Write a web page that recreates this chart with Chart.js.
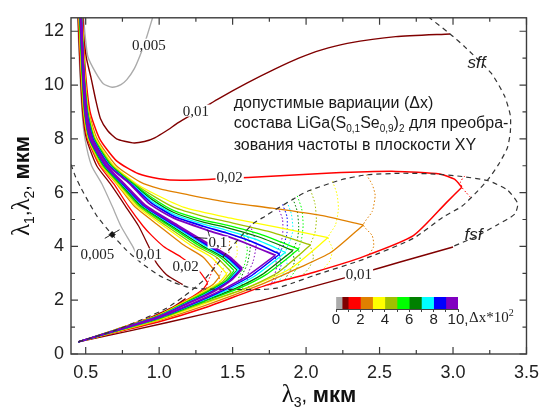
<!DOCTYPE html>
<html lang="ru">
<head>
<meta charset="UTF-8">
<title>Допустимые вариации состава LiGa(S,Se)2</title>
<script src="https://cdn.jsdelivr.net/npm/chart.js"></script>
<style>
  body { margin: 0; background: #fff; }
  #wrap { position: relative; width: 547px; height: 414px; }
  #main { position: absolute; left: 0; top: 0; }
  #bar { position: absolute; left: 326px; top: 290px; }
</style>
</head>
<body>
<div id="wrap">
  <canvas id="main" width="547" height="414"></canvas>
  <canvas id="bar" width="240" height="43"></canvas>
</div>
<script>
// axes
const xTicks = [0.5, 1.0, 1.5, 2.0, 2.5, 3.0, 3.5];
const xMinor = [0.75, 1.25, 1.75, 2.25, 2.75, 3.25];
const yTicks = [0, 2, 4, 6, 8, 10, 12];
const yMinor = [1, 3, 5, 7, 9, 11];

// phase-matching region borders (lambda3, lambda1/2)
const sffBorder = [[0.4,7.05],[0.43,6.6],[0.47,6.15],[0.52,5.65],[0.58,5.1],[0.68,4.44],[0.77,3.9],[0.87,3.42],[1.0,2.92],[1.1,2.66],[1.2,2.48],[1.3,2.42],[1.5,2.4],[1.7,2.4],[1.8,2.45],[1.9,2.62],[2.06,2.93],[2.39,3.52],[2.73,4.3],[2.93,5.08],[3.06,5.49],[3.15,5.96],[3.24,6.5],[3.31,7.05],[3.37,7.67],[3.39,8.25],[3.39,8.87],[3.35,9.6],[3.26,10.44],[3.08,11.42],[2.98,11.9],[2.84,12.5]];
const fsfBorder = [[0.45,0.45],[0.7,0.88],[0.9,1.32],[1.05,1.7],[1.17,2.15],[1.24,2.45],[1.31,2.78],[1.39,3.3],[1.46,3.78],[1.57,4.45],[1.64,4.85],[1.72,5.12],[1.79,5.36],[1.9,5.72],[2.01,6.05],[2.24,6.48],[2.41,6.66],[2.66,6.72],[2.88,6.69],[3.06,6.6],[3.24,6.44],[3.37,6.1],[3.44,5.6],[3.42,5.2],[3.3,4.8],[3.15,4.35],[3.0,4.0]];

// dx = 0.005
const leftGray = [[0.445,12.5],[0.46,10.5],[0.475,9],[0.495,8],[0.54,7],[0.61,6.33],[0.68,5.5],[0.74,4.75],[0.82,4.0],[0.87,3.42]];
const rightGray = [[0.486,12.5],[0.495,11.9],[0.515,11.05],[0.57,10.44],[0.62,10.05],[0.68,9.92],[0.74,10.02],[0.78,10.2],[0.83,10.6],[0.87,11.1],[0.91,11.7],[0.955,12.5]];

// dx = 0.01
const leftBrown = [[0.448,12.5],[0.463,10.5],[0.479,9],[0.505,8],[0.575,7],[0.667,6.33],[0.77,5.5],[0.86,4.76],[0.925,4.04],[0.98,3.4],[1.05,2.95],[1.16,2.58]];
const leftBrownLow = [[0.45,0.45],[0.7,0.86],[0.9,1.26],[1.0,1.5],[1.1,1.76],[1.18,2.06]];
const rightBrown = [[0.481,12.5],[0.485,11.9],[0.505,11.0],[0.535,10.3],[0.57,9.4],[0.6,8.76],[0.65,8.3],[0.71,8.0],[0.82,7.85],[0.9,7.9],[0.97,8.04],[1.05,8.3],[1.13,8.6],[1.26,9.02],[1.4,9.48],[1.6,10.08],[1.79,10.6],[1.95,11.0],[2.1,11.3],[2.28,11.55],[2.61,11.8],[2.98,11.9]];
const rightBrownLow = [[0.45,0.45],[0.8,0.86],[1.31,1.49],[1.73,2.04],[2.36,2.98],[2.64,3.42],[3.0,3.98]];

// dx = 0.02
const leftRed = [[0.451,12.5],[0.467,10.5],[0.483,9],[0.512,8],[0.595,7],[0.69,6.33],[0.79,5.5],[0.89,4.76],[0.95,4.4],[1.03,4.0],[1.15,3.6],[1.27,3.1],[1.33,2.65]];
const leftRedLow = [[1.33,2.65],[1.3,2.42],[1.2,2.05],[1.0,1.47],[0.7,0.9],[0.45,0.45]];
const rightRed = [[0.478,12.5],[0.498,10.5],[0.53,9],[0.595,8],[0.71,7.18],[0.86,6.7],[1.0,6.52],[1.15,6.46],[1.48,6.53],[1.73,6.6],[2.17,6.73],[2.61,6.79],[2.91,6.69],[3.01,6.5],[3.06,6.2]];
const rightRedLow = [[3.06,6.2],[2.95,5.6],[2.73,4.4],[2.39,3.62],[2.06,3.05],[1.73,2.56],[1.31,1.72],[1.0,1.2],[0.7,0.8],[0.45,0.45]];

// dx = 0.03
const leftOrange = [[0.453,12.5],[0.469,10.5],[0.486,9],[0.516,8],[0.603,7],[0.71,6.33],[0.83,5.5],[1.0,4.76],[1.17,4.04],[1.3,3.6],[1.41,2.87]];
const leftOrangeLow = [[1.41,2.87],[1.37,2.6],[1.31,2.38],[1.2,2.03],[1.0,1.46],[0.7,0.9],[0.45,0.45]];
const rightOrange = [[0.476,12.5],[0.494,10.5],[0.522,9],[0.578,8],[0.708,7],[0.87,6.4],[1.0,6.15],[1.2,5.92],[1.46,5.65],[1.77,5.42],[2.1,5.15],[2.39,4.8]];
const rightOrangeLow = [[2.39,4.8],[2.17,3.78],[1.95,3.2],[1.7,2.6],[1.31,1.8],[1.0,1.25],[0.7,0.81],[0.45,0.45]];

// dx = 0.04
const leftYellow = [[0.455,12.5],[0.471,10.5],[0.488,9],[0.519,8],[0.61,7],[0.715,6.33],[0.845,5.5],[1.03,4.76],[1.215,4.04],[1.355,3.6],[1.46,2.98]];
const leftYellowLow = [[1.46,2.98],[1.41,2.66],[1.31,2.34],[1.2,2.01],[1.0,1.45],[0.7,0.89],[0.45,0.45]];
const rightYellow = [[0.475,12.5],[0.492,10.5],[0.518,9],[0.568,8],[0.692,7],[0.845,6.33],[0.98,5.92],[1.17,5.45],[1.46,5.08],[1.8,4.72],[2.15,4.33]];
const rightYellowLow = [[2.15,4.33],[1.9,3.2],[1.64,2.55],[1.31,1.87],[1.0,1.28],[0.7,0.82],[0.45,0.45]];

// dx = 0.05
const leftOlive = [[0.457,12.5],[0.473,10.5],[0.49,9],[0.522,8],[0.615,7],[0.725,6.33],[0.86,5.5],[1.05,4.76],[1.245,4.04],[1.39,3.6],[1.49,3.05]];
const leftOliveLow = [[1.49,3.05],[1.43,2.68],[1.31,2.3],[1.2,1.99],[1.0,1.44],[0.7,0.89],[0.45,0.45]];
const rightOlive = [[0.474,12.5],[0.49,10.5],[0.515,9],[0.562,8],[0.682,7],[0.832,6.33],[0.965,5.86],[1.1,5.45],[1.3,5.12],[1.46,4.92],[1.75,4.55],[2.03,4.05]];
const rightOliveLow = [[2.03,4.05],[1.8,3.0],[1.58,2.42],[1.31,1.92],[1.0,1.3],[0.7,0.83],[0.45,0.45]];

// dx = 0.06
const leftGreen = [[0.459,12.5],[0.475,10.5],[0.492,9],[0.525,8],[0.62,7],[0.732,6.33],[0.87,5.5],[1.07,4.76],[1.27,4.04],[1.415,3.6],[1.51,3.1]];
const leftGreenLow = [[1.51,3.1],[1.45,2.7],[1.31,2.27],[1.2,1.97],[1.0,1.43],[0.7,0.88],[0.45,0.45]];
const rightGreen = [[0.473,12.5],[0.489,10.5],[0.513,9],[0.558,8],[0.675,7],[0.824,6.33],[0.955,5.8],[1.1,5.33],[1.3,4.98],[1.46,4.79],[1.7,4.43],[1.95,3.9]];
const rightGreenLow = [[1.95,3.9],[1.73,2.96],[1.54,2.43],[1.31,1.96],[1.0,1.32],[0.7,0.84],[0.45,0.45]];

// dx = 0.07
const leftDkgreen = [[0.461,12.5],[0.477,10.5],[0.494,9],[0.527,8],[0.625,7],[0.738,6.33],[0.88,5.5],[1.085,4.76],[1.29,4.04],[1.435,3.6],[1.53,3.12]];
const leftDkgreenLow = [[1.53,3.12],[1.46,2.71],[1.31,2.24],[1.2,1.95],[1.0,1.42],[0.7,0.88],[0.45,0.45]];
const rightDkgreen = [[0.472,12.5],[0.488,10.5],[0.511,9],[0.555,8],[0.67,7],[0.818,6.33],[0.95,5.75],[1.1,5.26],[1.3,4.9],[1.46,4.7],[1.68,4.35],[1.91,3.85]];
const rightDkgreenLow = [[1.91,3.85],[1.7,2.95],[1.52,2.44],[1.31,1.99],[1.0,1.33],[0.7,0.85],[0.45,0.45]];

// dx = 0.08
const leftCyan = [[0.463,12.5],[0.479,10.5],[0.496,9],[0.529,8],[0.63,7],[0.745,6.33],[0.89,5.5],[1.1,4.76],[1.31,4.04],[1.45,3.6],[1.54,3.14]];
const leftCyanLow = [[1.54,3.14],[1.47,2.72],[1.31,2.21],[1.2,1.93],[1.0,1.41],[0.7,0.88],[0.45,0.45]];
const rightCyan = [[0.471,12.5],[0.487,10.5],[0.509,9],[0.552,8],[0.665,7],[0.812,6.33],[0.945,5.7],[1.1,5.19],[1.3,4.83],[1.46,4.6],[1.65,4.28],[1.86,3.78]];
const rightCyanLow = [[1.86,3.78],[1.66,2.93],[1.49,2.44],[1.31,2.02],[1.0,1.34],[0.7,0.85],[0.45,0.45]];

// dx = 0.09
const leftBlue = [[0.465,12.5],[0.481,10.5],[0.498,9],[0.531,8],[0.635,7],[0.752,6.33],[0.9,5.5],[1.115,4.76],[1.33,4.04],[1.465,3.6],[1.555,3.15]];
const leftBlueLow = [[1.555,3.15],[1.48,2.73],[1.31,2.18],[1.2,1.91],[1.0,1.4],[0.7,0.87],[0.45,0.45]];
const rightBlue = [[0.47,12.5],[0.486,10.5],[0.507,9],[0.549,8],[0.66,7],[0.806,6.33],[0.94,5.65],[1.1,5.12],[1.3,4.75],[1.46,4.5],[1.62,4.2],[1.82,3.72]];
const rightBlueLow = [[1.82,3.72],[1.63,2.92],[1.47,2.45],[1.31,2.05],[1.0,1.35],[0.7,0.86],[0.45,0.45]];

// dx = 0.1
const leftViolet = [[0.467,12.5],[0.483,10.5],[0.5,9],[0.534,8],[0.64,7],[0.76,6.33],[0.91,5.5],[1.13,4.76],[1.35,4.04],[1.48,3.6],[1.565,3.17]];
const leftVioletLow = [[1.565,3.17],[1.49,2.74],[1.37,2.32],[1.2,1.89],[1.0,1.39],[0.7,0.87],[0.45,0.45]];
const rightViolet = [[0.469,12.5],[0.485,10.5],[0.505,9],[0.545,8],[0.655,7],[0.8,6.33],[0.93,5.6],[1.1,5.05],[1.33,4.6],[1.46,4.38],[1.6,4.1],[1.79,3.67]];
const rightVioletLow = [[1.79,3.67],[1.6,2.9],[1.45,2.45],[1.31,2.08],[1.0,1.36],[0.7,0.86],[0.45,0.45]];

// tolerance contours in the other plane (dotted)
const dotRed = [[3.08,6.62],[3.05,6.4],[3.06,6.2],[3.09,6.0],[3.12,5.82]];
const dotOrange = [[2.41,6.67],[2.45,6.3],[2.47,5.9],[2.45,5.3],[2.39,4.8],[2.45,4.4],[2.46,4.0],[2.42,3.62]];
const dotYellow = [[2.18,6.42],[2.21,5.95],[2.22,5.4],[2.2,4.8],[2.15,4.33],[2.18,3.9],[2.16,3.45],[2.11,3.12]];
const dotOlive = [[2.03,6.1],[2.06,5.6],[2.07,5.0],[2.06,4.5],[2.03,4.05],[2.05,3.6],[2.02,3.2],[1.97,2.9]];
const dotGreen = [[1.94,5.88],[1.97,5.4],[1.98,4.8],[1.97,4.3],[1.95,3.9],[1.96,3.45],[1.92,3.05],[1.88,2.75]];
const dotDkgreen = [[1.91,5.78],[1.94,5.3],[1.95,4.7],[1.94,4.25],[1.91,3.85],[1.92,3.4],[1.88,3.0],[1.85,2.7]];
const dotCyan = [[1.87,5.66],[1.9,5.2],[1.91,4.6],[1.89,4.2],[1.86,3.78],[1.87,3.35],[1.84,2.95],[1.81,2.65]];
const dotBlue = [[1.84,5.56],[1.87,5.1],[1.87,4.5],[1.85,4.1],[1.82,3.72],[1.83,3.3],[1.8,2.9],[1.78,2.6]];
const dotViolet = [[1.81,5.45],[1.84,5.0],[1.84,4.4],[1.82,4.0],[1.79,3.67],[1.8,3.25],[1.78,2.85],[1.76,2.55]];
const dotLeftRed = [[1.42,3.95],[1.38,3.35],[1.33,2.65],[1.32,2.42]];
const dotLeftOrange = [[1.48,4.2],[1.47,3.6],[1.41,2.87],[1.42,2.42]];
const dotLeftYellow = [[1.52,4.4],[1.53,3.7],[1.46,2.98],[1.48,2.42]];
const dotLeftGreen = [[1.57,4.5],[1.6,3.9],[1.58,3.3],[1.54,2.8],[1.55,2.42]];
const dotLeftDkgreen = [[1.59,4.6],[1.62,4.0],[1.6,3.35],[1.56,2.85],[1.57,2.42]];
const dotLeftViolet = [[1.62,4.78],[1.66,4.1],[1.64,3.45],[1.6,2.9],[1.61,2.42]];

// leader lines for the labels
const lead005 = [[0.63,4.3],[0.73,4.62]];
const lead005Mark = [[0.68,4.44]];
const lead01a = [[1.33,4.3],[1.24,4.33]];
const lead01b = [[1.345,4.33],[1.33,4.62]];

const curveLabels = [
  { text: '0,005', x: 0.93, y: 11.5 },
  { text: '0,01', x: 1.25, y: 9.05 },
  { text: '0,02', x: 1.48, y: 6.58 },
  { text: '0,005', x: 0.58, y: 3.72 },
  { text: '0,01', x: 0.93, y: 3.7 },
  { text: '0,02', x: 1.18, y: 3.27 },
  { text: '0,1', x: 1.4, y: 4.15 },
  { text: '0,01', x: 2.36, y: 2.98 }
];

// colour bar: dx*100 edges
const dxEdges = [0, 0.5, 1, 2, 3, 4, 5, 6, 7, 8, 9, 10];

const col = {
  gray: '#ababab', brown: '#800000', red: '#ff0000', orange: '#e08000', yellow: '#ffff00',
  olive: '#a0c000', green: '#00ff00', dkgreen: '#008000', cyan: '#00ffff', blue: '#0000ff', violet: '#8000c0'
};
const barColors = [col.gray, col.brown, col.red, col.orange, col.yellow, col.olive, col.green, col.dkgreen, col.cyan, col.blue, col.violet];

function line(data, color, width = 1.3, dash = []) {
  return { data, borderColor: color, borderWidth: width, borderDash: dash, showLine: true,
           pointRadius: 0, tension: 0.2, fill: false };
}

const dashed = [5, 4];
const dotted = [1.5, 2];

const datasets = [
  line(lead005, '#222', 1),
  { data: lead005Mark, pointStyle: 'rectRot', pointRadius: 3, backgroundColor: '#111', borderColor: '#111', showLine: false },
  line(lead01a, '#222', 1),
  line(lead01b, '#222', 1),
  line(sffBorder, '#333', 1.2, dashed),
  line(fsfBorder, '#333', 1.2, dashed),

  line(leftViolet, col.violet, 2.4), line(leftVioletLow, col.violet, 1.8),
  line(rightViolet, col.violet, 1.8), line(rightVioletLow, col.violet, 1.5),
  line(leftBlue, col.blue, 2), line(leftBlueLow, col.blue, 1.5),
  line(rightBlue, col.blue, 1.6), line(rightBlueLow, col.blue, 1.4),
  line(leftCyan, col.cyan), line(leftCyanLow, col.cyan), line(rightCyan, col.cyan), line(rightCyanLow, col.cyan),
  line(leftDkgreen, col.dkgreen), line(leftDkgreenLow, col.dkgreen), line(rightDkgreen, col.dkgreen), line(rightDkgreenLow, col.dkgreen),
  line(leftGreen, col.green), line(leftGreenLow, col.green), line(rightGreen, col.green), line(rightGreenLow, col.green),
  line(leftOlive, col.olive), line(leftOliveLow, col.olive), line(rightOlive, col.olive), line(rightOliveLow, col.olive),
  line(leftYellow, col.yellow), line(leftYellowLow, col.yellow), line(rightYellow, col.yellow), line(rightYellowLow, col.yellow),
  line(leftOrange, col.orange), line(leftOrangeLow, col.orange), line(rightOrange, col.orange), line(rightOrangeLow, col.orange),
  line(leftRed, col.red), line(leftRedLow, col.red), line(rightRed, col.red, 1.5), line(rightRedLow, col.red, 1.5),
  line(leftBrown, col.brown), line(leftBrownLow, col.brown), line(rightBrown, col.brown, 1.4), line(rightBrownLow, col.brown, 1.4),
  line(leftGray, col.gray), line(rightGray, col.gray, 1.4),

  line(dotViolet, col.violet, 1, dotted), line(dotBlue, col.blue, 1, dotted), line(dotCyan, col.cyan, 1, dotted),
  line(dotDkgreen, col.dkgreen, 1, dotted), line(dotGreen, col.green, 1, dotted), line(dotOlive, col.olive, 1, dotted),
  line(dotYellow, col.yellow, 1, dotted), line(dotOrange, col.orange, 1, dotted), line(dotRed, col.red, 1, dotted),
  line(dotLeftViolet, col.violet, 1, dotted), line(dotLeftDkgreen, col.dkgreen, 1, dotted), line(dotLeftGreen, col.green, 1, dotted),
  line(dotLeftYellow, col.yellow, 1, dotted), line(dotLeftOrange, col.orange, 1, dotted), line(dotLeftRed, col.red, 1, dotted)
];

const SANS = '"Liberation Sans", Arial, sans-serif';
const SERIF = '"Liberation Serif", "Times New Roman", serif';

function drawRuns(ctx, runs, x, y) {
  let cx = x;
  for (const [t, font, dy] of runs) {
    ctx.font = font;
    ctx.fillText(t, cx, y + (dy || 0));
    cx += ctx.measureText(t).width;
  }
}
function runsWidth(ctx, runs) {
  let w = 0;
  for (const [t, font] of runs) { ctx.font = font; w += ctx.measureText(t).width; }
  return w;
}

const note = [
  [['допустимые вариации (Δx)', '16px ' + SANS]],
  [['состава LiGa(S', '16px ' + SANS], ['0,1', '10px ' + SANS, 4], ['Se', '16px ' + SANS], ['0,9', '10px ' + SANS, 4],
   [')', '16px ' + SANS], ['2', '10px ' + SANS, 4], [' для преобра-', '16px ' + SANS]],
  [['зования частоты в плоскости XY', '16px ' + SANS]]
];
const xTitle = [['λ', '25px ' + SERIF], ['3', '14px ' + SANS, 5], [', ', '20px ' + SANS], ['мкм', 'bold 22px ' + SANS]];
const yTitle = [['λ', '25px ' + SERIF], ['1', '14px ' + SANS, 5], [',', '20px ' + SANS], ['λ', '25px ' + SERIF],
                ['2', '14px ' + SANS, 5], [', ', '20px ' + SANS], ['мкм', 'bold 22px ' + SANS]];

const decorations = {
  id: 'decorations',
  afterDatasetsDraw(chart) {
    const { ctx, chartArea: a, scales: { x, y } } = chart;
    ctx.save();
    // curve labels sit on a white patch that breaks the line
    ctx.font = '15px ' + SERIF;
    ctx.textAlign = 'center';
    ctx.textBaseline = 'middle';
    for (const l of curveLabels) {
      const px = x.getPixelForValue(l.x), py = y.getPixelForValue(l.y);
      const w = ctx.measureText(l.text).width;
      ctx.fillStyle = '#fff';
      ctx.fillRect(px - w / 2 - 1, py - 6, w + 2, 12);
      ctx.fillStyle = '#222';
      ctx.fillText(l.text, px, py + 1);
    }
    ctx.font = 'italic 17px ' + SANS;
    ctx.fillText('sff', x.getPixelForValue(3.16), y.getPixelForValue(10.8));
    ctx.fillText('fsf', x.getPixelForValue(3.14), y.getPixelForValue(4.4));

    ctx.textAlign = 'left';
    ctx.textBaseline = 'alphabetic';
    ctx.fillStyle = '#1a1a1a';
    const nx = x.getPixelForValue(1.507);
    [9.16, 8.4, 7.6].forEach((v, i) => drawRuns(ctx, note[i], nx, y.getPixelForValue(v)));

    // frame with inward ticks on all sides
    ctx.strokeStyle = '#3c3c3c';
    ctx.lineWidth = 1.4;
    ctx.strokeRect(a.left, a.top, a.right - a.left, a.bottom - a.top);
    ctx.lineWidth = 1.2;
    ctx.beginPath();
    const xt = (v, len) => {
      const p = x.getPixelForValue(v);
      ctx.moveTo(p, a.bottom); ctx.lineTo(p, a.bottom - len);
      ctx.moveTo(p, a.top); ctx.lineTo(p, a.top + len);
    };
    const yt = (v, len) => {
      const p = y.getPixelForValue(v);
      ctx.moveTo(a.left, p); ctx.lineTo(a.left + len, p);
      ctx.moveTo(a.right, p); ctx.lineTo(a.right - len, p);
    };
    xTicks.forEach(v => xt(v, 7)); xMinor.forEach(v => xt(v, 4));
    yTicks.forEach(v => yt(v, 7)); yMinor.forEach(v => yt(v, 4));
    ctx.stroke();

    // axis titles
    ctx.fillStyle = '#111';
    const wx = runsWidth(ctx, xTitle);
    drawRuns(ctx, xTitle, 319 - wx / 2, 402);
    ctx.translate(29, 186);
    ctx.rotate(-Math.PI / 2);
    const wy = runsWidth(ctx, yTitle);
    drawRuns(ctx, yTitle, -wy / 2, 0);
    ctx.restore();
  }
};

new Chart(document.getElementById('main'), {
  type: 'scatter',
  data: { datasets },
  plugins: [decorations],
  options: {
    responsive: false,
    animation: false,
    layout: { padding: { left: 0, right: 14, top: 10, bottom: 0 } },
    plugins: { legend: { display: false }, tooltip: { enabled: false } },
    scales: {
      x: {
        type: 'linear', min: 0.4, max: 3.5,
        grid: { display: false, drawTicks: false }, border: { display: false },
        afterBuildTicks: s => { s.ticks = xTicks.map(v => ({ value: v })); },
        afterFit: s => { s.height = 60; },
        ticks: { font: { family: SANS, size: 18 }, color: '#222', padding: 8, maxRotation: 0, autoSkip: false,
                 callback: v => Number(v).toFixed(1) }
      },
      y: {
        type: 'linear', min: 0, max: 12.5,
        grid: { display: false, drawTicks: false }, border: { display: false },
        afterBuildTicks: s => { s.ticks = yTicks.map(v => ({ value: v })); },
        afterFit: s => { s.width = 71; },
        ticks: { font: { family: SANS, size: 18 }, color: '#222', padding: 7, autoSkip: false,
                 callback: v => String(v) }
      }
    }
  }
});

// colour scale
const barUnit = {
  id: 'barUnit',
  afterDraw(chart) {
    const { ctx } = chart;
    ctx.save();
    ctx.fillStyle = '#222';
    ctx.textBaseline = 'alphabetic';
    drawRuns(ctx, [['Δx*10', '15px ' + SERIF], ['2', '10px ' + SERIF, -6]], 143, 32);
    ctx.restore();
  }
};

new Chart(document.getElementById('bar'), {
  type: 'bar',
  data: {
    labels: ['Δx'],
    datasets: barColors.map((c, i) => ({
      data: [[dxEdges[i], dxEdges[i + 1]]], backgroundColor: c, borderWidth: 0,
      grouped: false, barPercentage: 1, categoryPercentage: 1
    }))
  },
  plugins: [barUnit],
  options: {
    indexAxis: 'y',
    responsive: false,
    animation: false,
    layout: { padding: { left: 10, right: 108, top: 7, bottom: 0 } },
    plugins: { legend: { display: false }, tooltip: { enabled: false } },
    scales: {
      x: {
        min: 0, max: 10,
        afterFit: s => { s.height = 24; },
        grid: { display: true, drawOnChartArea: false, tickLength: 3, color: '#444' },
        border: { display: true, color: '#444' },
        ticks: { stepSize: 1, padding: 0, color: '#222', font: { family: SANS, size: 15, lineHeight: 1 }, autoSkip: false, maxRotation: 0,
                 callback: v => (v % 2 ? '' : (v === 10 ? '10,' : String(v))) }
      },
      y: { display: false }
    }
  }
});
</script>
</body>
</html>
